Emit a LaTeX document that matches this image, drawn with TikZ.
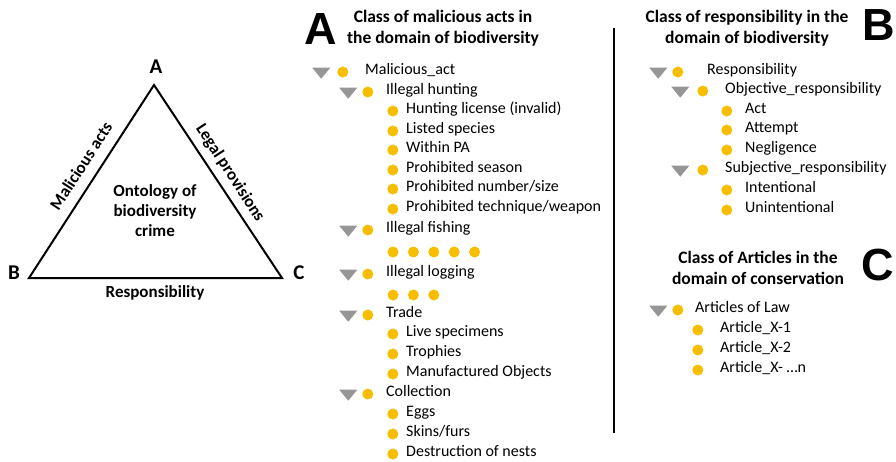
\documentclass[tikz,border=0pt]{standalone}
\usepackage{fontspec}
\setmainfont{Carlito}
\newfontfamily\panelfont{Liberation Sans}
\usetikzlibrary{positioning, shapes.geometric}
\definecolor{ontogold}{RGB}{247,190,0}
\definecolor{ontogray}{RGB}{150,150,150}
\tikzset{
x=1pt, y=-1pt, % one unit is one pixel of the reference
item/.style={anchor=west, inner sep=0pt, font=\fontsize{16}{16}\selectfont, text height=1.5ex, text depth=.3ex},
bullet/.style={circle, fill=ontogold, minimum size=11pt, inner sep=0pt},
opener/.style={isosceles triangle, isosceles triangle stretches, shape border rotate=270, fill=ontogray, minimum width=18pt, minimum height=11pt, inner sep=0pt},
heading/.style={align=center, font=\bfseries\fontsize{17.5}{21}\selectfont},
panel/.style={inner sep=0pt, font=\panelfont\bfseries\fontsize{45}{45}\selectfont},
vertex/.style={inner sep=0pt, font=\bfseries\fontsize{21}{21}\selectfont},
side/.style={font=\bfseries\fontsize{17}{20}\selectfont},
}

\begin{document}
\begin{tikzpicture}
\useasboundingbox (0,0) rectangle (896,461);

% triangle of the ontology
\coordinate (tA) at (154,85);
\coordinate (tB) at (29,278);
\coordinate (tC) at (282,278);
\draw[line width=2pt, line join=miter] (tA) -- (tB) -- (tC) -- cycle;
\node[vertex] (vA) at (156,67) {A};
\node[vertex] (vB) at (14,273) {B};
\node[vertex] (vC) at (299,273) {C};
\node[side, rotate=57] (acts) at (81,166) {Malicious acts};
\node[side, rotate=-57] (laws) at (230,173) {Legal provisions};
\node[side] (resp) at (155,293) {Responsibility};
\node[side, align=center] (onto) at (155,211) {Ontology of\\biodiversity\\crime};

% panel A
\node[panel] (pA) at (321,29) {A};
\node[heading] (hA) at (443,28.5) {Class of malicious acts in\\the domain of biodiversity};

\node[item] (mal) at (365,72) {Malicious\_act};
\node[bullet, left=16.5pt of mal] (malb) {};
\node[opener, left=10pt of malb] (malo) {};

\node[item] (hunt) at (386,92) {Illegal hunting};
\node[bullet, left=12.5pt of hunt] (huntb) {};
\node[opener, left=8pt of huntb] (hunto) {};
\node[item] (h1) at (406,111) {Hunting license (invalid)};
\node[bullet, left=7.5pt of h1] {};
\node[item] (h2) at (406,131) {Listed species};
\node[bullet, left=7.5pt of h2] {};
\node[item] (h3) at (406,150) {Within PA};
\node[bullet, left=7.5pt of h3] {};
\node[item] (h4) at (406,170) {Prohibited season};
\node[bullet, left=7.5pt of h4] {};
\node[item] (h5) at (406,189) {Prohibited number/size};
\node[bullet, left=7.5pt of h5] {};
\node[item] (h6) at (406,209) {Prohibited technique/weapon};
\node[bullet, left=7.5pt of h6] {};

\node[item] (fish) at (386,230) {Illegal fishing};
\node[bullet, left=12.5pt of fish] (fishb) {};
\node[opener, left=8pt of fishb] (fisho) {};
\node[bullet] (f1) at (393,252) {};
\node[bullet, right=9pt of f1] (f2) {};
\node[bullet, right=9pt of f2] (f3) {};
\node[bullet, right=9pt of f3] (f4) {};
\node[bullet, right=9pt of f4] (f5) {};

\node[item] (log) at (386,274) {Illegal logging};
\node[bullet, left=12.5pt of log] (logb) {};
\node[opener, left=8pt of logb] (logo) {};
\node[bullet] (l1) at (393,295) {};
\node[bullet, right=9pt of l1] (l2) {};
\node[bullet, right=9pt of l2] (l3) {};

\node[item] (trade) at (386,315) {Trade};
\node[bullet, left=12.5pt of trade] (tradeb) {};
\node[opener, left=8pt of tradeb] (tradeo) {};
\node[item] (t1) at (406,334) {Live specimens};
\node[bullet, left=7.5pt of t1] {};
\node[item] (t2) at (406,354) {Trophies};
\node[bullet, left=7.5pt of t2] {};
\node[item] (t3) at (406,374) {Manufactured Objects};
\node[bullet, left=7.5pt of t3] {};

\node[item] (coll) at (386,394) {Collection};
\node[bullet, left=12.5pt of coll] (collb) {};
\node[opener, left=8pt of collb] (collo) {};
\node[item] (c1) at (406,414) {Eggs};
\node[bullet, left=7.5pt of c1] {};
\node[item] (c2) at (406,434) {Skins/furs};
\node[bullet, left=7.5pt of c2] {};
\node[item] (c3) at (406,454) {Destruction of nests};
\node[bullet, left=7.5pt of c3] {};

% divider
\coordinate (dtop) at (614,28);
\coordinate (dbot) at (614,433);
\draw[line width=2pt] (dtop) -- (dbot);

% panel B
\node[panel] (pB) at (879,25) {B};
\node[heading] (hB) at (747,28) {Class of responsibility in the\\domain of biodiversity};

\node[item] (res) at (707,72) {Responsibility};
\node[bullet, left=23.5pt of res] (resb) {};
\node[opener, left=8pt of resb] (reso) {};
\node[item] (obj) at (725,91) {Objective\_responsibility};
\node[bullet, left=16.5pt of obj] (objb) {};
\node[opener, left=11pt of objb] (objo) {};
\node[item] (o1) at (745,111) {Act};
\node[bullet, left=12.5pt of o1] {};
\node[item] (o2) at (745,130) {Attempt};
\node[bullet, left=12.5pt of o2] {};
\node[item] (o3) at (745,150) {Negligence};
\node[bullet, left=12.5pt of o3] {};
\node[item] (sub) at (725,170) {Subjective\_responsibility};
\node[bullet, left=16.5pt of sub] (subb) {};
\node[opener, left=11pt of subb] (subo) {};
\node[item] (s1) at (745,190) {Intentional};
\node[bullet, left=12.5pt of s1] {};
\node[item] (s2) at (745,210) {Unintentional};
\node[bullet, left=12.5pt of s2] {};

% panel C
\node[panel] (pC) at (878,265) {C};
\node[heading] (hC) at (758,267.5) {Class of Articles in the\\domain of conservation};

\node[item] (art) at (695,310) {Articles of Law};
\node[bullet, left=11.5pt of art] (artb) {};
\node[opener, left=8pt of artb] (arto) {};
\node[item] (a1) at (720,330) {Article\_X-1};
\node[bullet, left=16.5pt of a1] {};
\node[item] (a2) at (720,350) {Article\_X-2};
\node[bullet, left=16.5pt of a2] {};
\node[item] (a3) at (720,370) {Article\_X- \dots n};
\node[bullet, left=16.5pt of a3] {};
\end{tikzpicture}
\end{document}
